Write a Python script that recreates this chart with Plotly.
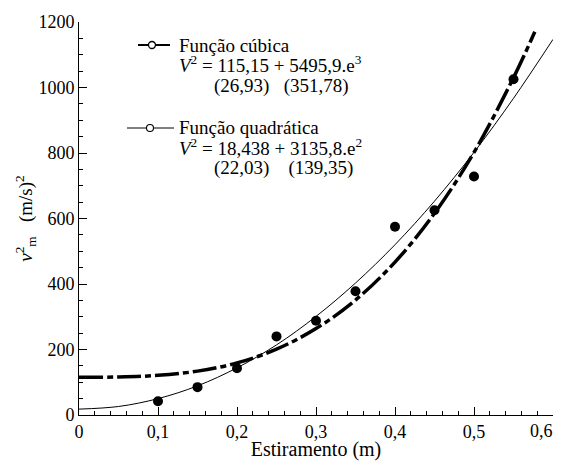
import plotly.graph_objects as go

# measured points
x_pts = [0.10, 0.15, 0.20, 0.25, 0.30, 0.35, 0.40, 0.45, 0.50, 0.55]
y_pts = [42, 85, 143, 240, 288, 378, 575, 625, 728, 1025]

# quadratic fit curve
x_quad = [0.0, 0.05, 0.10, 0.15, 0.20, 0.25, 0.30, 0.35, 0.40, 0.45, 0.50, 0.55, 0.60]
y_quad = [18, 26, 50, 89, 144, 214, 301, 403, 520, 653, 802, 967, 1147]

# cubic fit curve
x_cub = [0.0, 0.05, 0.10, 0.15, 0.20, 0.25, 0.30, 0.35, 0.40, 0.45, 0.50, 0.55, 0.577]
y_cub = [115, 116, 121, 134, 159, 201, 264, 351, 467, 616, 802, 1030, 1170]

x_tickvals = [0, 0.1, 0.2, 0.3, 0.4, 0.5, 0.6]
x_ticktext = ["0", "0,1", "0,2", "0,3", "0,4", "0,5", ""]
x_last_label = "0,6"
y_tickvals = [0, 200, 400, 600, 800, 1000, 1200]
y_ticktext = ["0", "200", "400", "600", "800", "1000", "1200"]

FONT = "Liberation Serif, Tinos, Times New Roman, Liberation Sans, Arial, sans-serif"

fig = go.Figure()
fig.add_trace(go.Scatter(x=x_quad, y=y_quad, mode="lines", line=dict(color="black", width=1, shape="spline"),
                         showlegend=False, hoverinfo="skip"))
fig.add_trace(go.Scatter(x=x_cub, y=y_cub, mode="lines",
                         line=dict(color="black", width=3.5, shape="spline", dash="24px,4px,6px,4px"),
                         showlegend=False, hoverinfo="skip"))
fig.add_trace(go.Scatter(x=x_pts, y=y_pts, mode="markers", marker=dict(color="black", size=10),
                         showlegend=False))

# page has an 8px body margin; figure size/margins compensate for it
OFF = 8
W, H = 556, 453
L, R, T, B = 71, 11, 14, 46
pw, ph = W - L - R, H - T - B

def px(xp):
    return (xp - OFF - L) / pw

def py(yp):
    return (H - B - (yp - OFF)) / ph

shapes = []
annotations = []
shapes.append(dict(type="line", xref="paper", yref="paper", x0=px(138), x1=px(170), y0=py(45), y1=py(45),
                   line=dict(color="black", width=2)))
shapes.append(dict(type="circle", xref="paper", yref="paper", x0=px(148.5), x1=px(155.5), y0=py(41.5), y1=py(48.5),
                   line=dict(color="black", width=1.3), fillcolor="white"))
shapes.append(dict(type="line", xref="paper", yref="paper", x0=px(127), x1=px(174), y0=py(128), y1=py(128),
                   line=dict(color="black", width=1)))
shapes.append(dict(type="circle", xref="paper", yref="paper", x0=px(146.5), x1=px(153.5), y0=py(124.5), y1=py(131.5),
                   line=dict(color="black", width=1.1), fillcolor="white"))

texts = [
    (177, 45, "Função cúbica"),
    (177, 64, "<i>V</i><sup>2</sup> = 115,15 + 5495,9.e<sup>3</sup>"),
    (212, 86, "(26,93)   (351,78)"),
    (177, 128, "Função quadrática"),
    (177, 147, "<i>V</i><sup>2</sup> = 18,438 + 3135,8.e<sup>2</sup>"),
    (212, 168, "(22,03)    (139,35)"),
]
for xp, yp, t in texts:
    annotations.append(dict(xref="paper", yref="paper", x=px(xp), y=py(yp), text=t, showarrow=False,
                            xanchor="left", yanchor="middle", font=dict(family=FONT, size=19, color="black")))

# last x tick label, kept inside the page edge
annotations.append(dict(xref="x", yref="paper", x=x_tickvals[-1], y=0, text=x_last_label, showarrow=False,
                        xanchor="right", yanchor="middle", xshift=2, yshift=-16,
                        font=dict(family=FONT, size=18, color="black")))

fig.update_layout(
    width=W, height=H,
    margin=dict(l=L, r=R, t=T, b=B),
    plot_bgcolor="white", paper_bgcolor="white",
    font=dict(family=FONT, size=18, color="black"),
    shapes=shapes, annotations=annotations,
    showlegend=False,
)
fig.update_xaxes(range=[0, 0.6], tickvals=x_tickvals, ticktext=x_ticktext, automargin=False,
                 showline=True, linecolor="black", linewidth=1, showgrid=False, zeroline=False,
                 ticks="inside", ticklen=8, tickcolor="black", tickfont=dict(family=FONT, size=18),
                 minor=dict(ticks="inside", dtick=0.02, ticklen=4, tickcolor="black", showgrid=False),
                 title=dict(text="Estiramento (m)", font=dict(family=FONT, size=20), standoff=0))
fig.update_yaxes(range=[0, 1200], tickvals=y_tickvals, ticktext=y_ticktext, automargin=False,
                 showline=True, linecolor="black", linewidth=1, showgrid=False, zeroline=False,
                 ticks="inside", ticklen=8, tickcolor="black", tickfont=dict(family=FONT, size=18),
                 minor=dict(ticks="inside", dtick=50, ticklen=4, tickcolor="black", showgrid=False),
                 title=dict(text="<i>v</i><sup>2</sup><sub>m</sub>   (m/s)<sup>2</sup>", font=dict(family=FONT, size=19), standoff=0))

fig.write_html("out.html")
